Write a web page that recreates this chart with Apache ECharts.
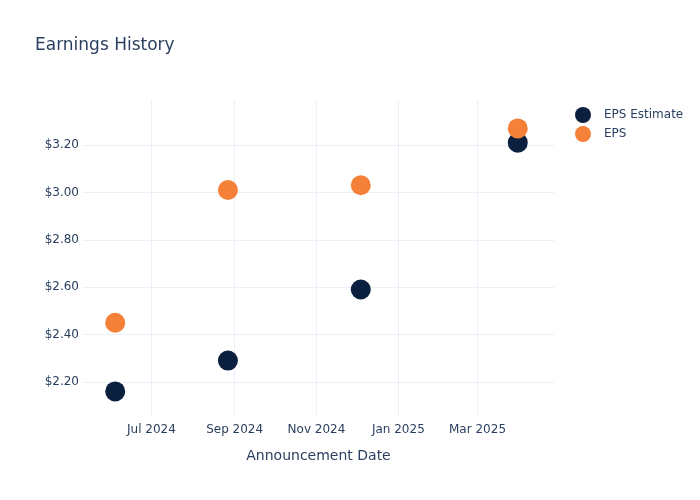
<!DOCTYPE html>
<html>
<head>
<meta charset="utf-8">
<script src="https://cdn.jsdelivr.net/npm/echarts@6/dist/echarts.min.js"></script>
<style>
  html, body { margin: 0; padding: 0; background: #fff; }
  #chart { width: 700px; height: 500px; }
</style>
</head>
<body>
<div id="chart"></div>
<script>
const dates = ['2024-06-04', '2024-08-27', '2024-12-04', '2025-03-31'];
const epsEstimate = [2.16, 2.29, 2.59, 3.21];
const eps = [2.45, 3.01, 3.03, 3.27];
const xTickDates = ['2024-07-01', '2024-09-01', '2024-11-01', '2025-01-01', '2025-03-01'];
const yTicks = [2.2, 2.4, 2.6, 2.8, 3.0, 3.2];
const xRange = ['2024-05-11', '2025-04-27'];
const yRange = [2.052, 3.39];

const monthNames = ['Jan','Feb','Mar','Apr','May','Jun','Jul','Aug','Sep','Oct','Nov','Dec'];
const ts = d => new Date(d + 'T00:00:00Z').getTime();
const fontFam = '"DejaVu Sans", Verdana, sans-serif';
const textColor = '#2a3f5f';
const gridColor = '#ebf0f8';

const chart = echarts.init(document.getElementById('chart'), null, { renderer: 'canvas' });
chart.setOption({
  backgroundColor: '#fff',
  animation: false,
  title: {
    text: 'Earnings History',
    left: 30, top: 32,
    textStyle: { fontFamily: fontFam, fontSize: 17, fontWeight: 'normal', color: textColor }
  },
  legend: {
    orient: 'vertical',
    left: 570, top: 102,
    itemWidth: 16, itemHeight: 16, itemGap: 3,
    icon: 'circle',
    textStyle: { fontFamily: fontFam, fontSize: 12, color: textColor, padding: [0, 0, 0, 8] },
    data: ['EPS Estimate', 'EPS']
  },
  grid: { left: 83, right: 146, top: 100, bottom: 83, containLabel: false },
  xAxis: {
    type: 'value',
    min: ts(xRange[0]), max: ts(xRange[1]),
    name: 'Announcement Date',
    nameLocation: 'middle', nameGap: 32,
    nameTextStyle: { fontFamily: fontFam, fontSize: 14, color: textColor },
    axisLine: { show: false },
    axisTick: { show: false, customValues: xTickDates.map(ts) },
    axisLabel: {
      customValues: xTickDates.map(ts),
      fontFamily: fontFam, fontSize: 12, color: textColor, margin: 7,
      formatter: v => { const d = new Date(v); return monthNames[d.getUTCMonth()] + ' ' + d.getUTCFullYear(); }
    },
    splitLine: { show: true, lineStyle: { color: gridColor, width: 1 } }
  },
  yAxis: {
    type: 'value',
    min: yRange[0], max: yRange[1],
    axisLine: { show: false },
    axisTick: { show: false, customValues: yTicks },
    axisLabel: {
      customValues: yTicks,
      fontFamily: fontFam, fontSize: 12, color: textColor, margin: 4,
      formatter: v => '$' + v.toFixed(2)
    },
    splitLine: { show: true, lineStyle: { color: gridColor, width: 1 } }
  },
  series: [
    {
      name: 'EPS Estimate', type: 'scatter', symbolSize: 20,
      itemStyle: { color: '#0b1f3f', opacity: 1 },
      data: dates.map((d, i) => [ts(d), epsEstimate[i]])
    },
    {
      name: 'EPS', type: 'scatter', symbolSize: 20,
      itemStyle: { color: '#f58139', opacity: 1 },
      data: dates.map((d, i) => [ts(d), eps[i]])
    }
  ]
});
</script>
</body>
</html>
